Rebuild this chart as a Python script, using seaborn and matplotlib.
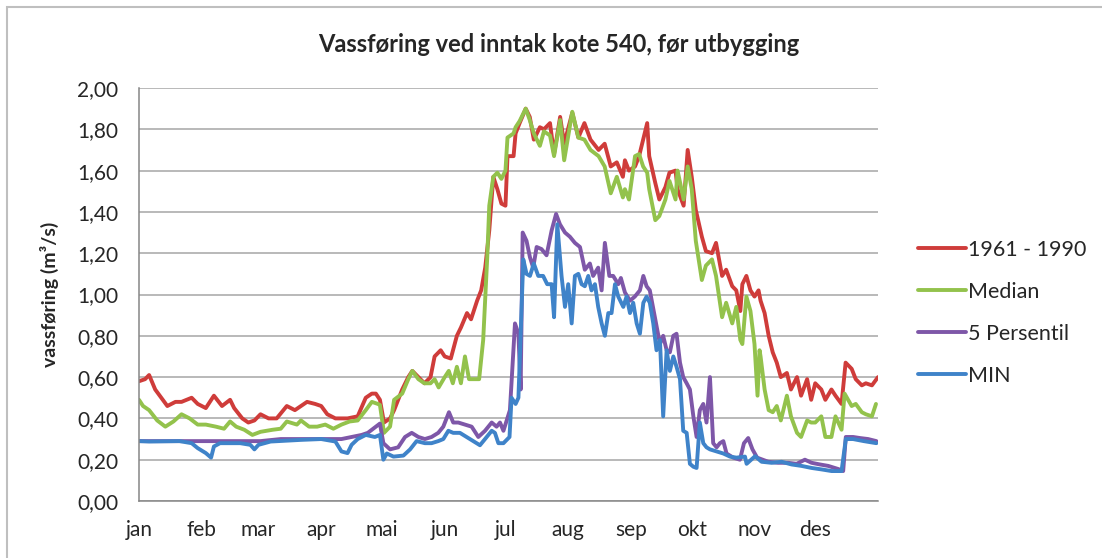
import matplotlib
matplotlib.use("Agg")
import matplotlib.pyplot as plt
from matplotlib.patches import Rectangle
from matplotlib.ticker import FuncFormatter
import pandas as pd
import seaborn as sns

# month labels (ticks sit at the first day of each month)
months = ['jan', 'feb', 'mar', 'apr', 'mai', 'jun', 'jul', 'aug', 'sep', 'okt', 'nov', 'des']
month_start = [0, 31, 59, 90, 120, 151, 181, 212, 243, 273, 304, 334]

# 1961 - 1990 (day of year / m3/s)
red_days = [0, 3, 5, 8, 11, 14, 18, 21, 26, 29, 33, 37, 41, 45, 47, 51, 54, 57, 60, 64,
            68, 73, 77, 83, 87, 90, 93, 97, 103, 108, 112, 115, 117, 119, 121, 124, 126, 130,
            133, 135, 138, 141, 144, 146, 149, 151, 154, 157, 159, 162, 164, 167, 169, 171,
            173, 175, 177, 179, 181, 182, 185, 186, 188, 191, 193, 195, 198, 200, 203, 205,
            208, 210, 214, 217, 220, 223, 227, 230, 233, 236, 239, 240, 242, 245, 247, 249,
            251, 252, 255, 257, 260, 262, 265, 266, 269, 271, 273, 275, 278, 280, 283, 285,
            288, 290, 293, 295, 297, 298, 300, 302, 304, 306, 307, 309, 311, 313, 315, 317,
            320, 322, 325, 327, 330, 332, 334, 337, 339, 342, 344, 347, 349, 352, 354, 357,
            359, 362, 365]
red_vals = [0.58, 0.59, 0.61, 0.54, 0.50, 0.46, 0.48, 0.48, 0.50, 0.47, 0.45, 0.51, 0.46, 0.49,
            0.45, 0.40, 0.38, 0.39, 0.42, 0.40, 0.40, 0.46, 0.44, 0.48, 0.47, 0.46, 0.42, 0.40,
            0.40, 0.41, 0.50, 0.52, 0.52, 0.49, 0.38, 0.40, 0.44, 0.54, 0.60, 0.63, 0.60, 0.57,
            0.60, 0.70, 0.73, 0.70, 0.69, 0.80, 0.84, 0.91, 0.88, 0.97, 1.02, 1.13, 1.31, 1.57,
            1.51, 1.44, 1.43, 1.67, 1.67, 1.78, 1.83, 1.90, 1.86, 1.75, 1.81, 1.80, 1.83, 1.68,
            1.86, 1.73, 1.88, 1.76, 1.83, 1.75, 1.70, 1.73, 1.62, 1.64, 1.57, 1.65, 1.60, 1.62,
            1.67, 1.75, 1.83, 1.67, 1.54, 1.46, 1.52, 1.59, 1.60, 1.51, 1.43, 1.70, 1.57, 1.41,
            1.28, 1.21, 1.20, 1.25, 1.09, 1.12, 1.04, 1.02, 0.92, 1.05, 1.09, 1.02, 0.99, 1.02,
            0.97, 0.91, 0.80, 0.72, 0.67, 0.60, 0.62, 0.54, 0.60, 0.51, 0.59, 0.49, 0.57, 0.54,
            0.49, 0.54, 0.51, 0.47, 0.67, 0.64, 0.59, 0.56, 0.57, 0.56, 0.60]

# Median
green_days = [0, 2, 5, 9, 13, 17, 21, 25, 29, 33, 38, 42, 45, 48, 52, 56, 60, 66, 70, 73,
              78, 80, 84, 88, 92, 96, 100, 104, 108, 112, 115, 118, 119, 121, 124, 126, 130,
              133, 135, 138, 141, 144, 146, 148, 151, 153, 155, 157, 159, 161, 163, 166, 168,
              170, 172, 173, 175, 177, 179, 181, 182, 185, 186, 188, 191, 193, 195, 198, 200,
              203, 205, 208, 210, 214, 217, 220, 223, 227, 230, 233, 236, 239, 240, 242, 245,
              247, 249, 251, 252, 255, 257, 260, 262, 265, 266, 269, 271, 273, 275, 278, 280,
              283, 285, 288, 290, 293, 295, 297, 298, 300, 302, 303, 304, 305.5, 306.5, 307,
              309, 311, 313, 315, 317, 320, 322, 325, 327, 330, 332, 334, 337, 339, 342, 344,
              347, 348.5, 352, 354, 357, 359, 362, 364]
green_vals = [0.49, 0.46, 0.44, 0.39, 0.36, 0.385, 0.42, 0.40, 0.37, 0.37, 0.36, 0.35, 0.385,
              0.36, 0.345, 0.32, 0.335, 0.345, 0.35, 0.385, 0.37, 0.39, 0.36, 0.36, 0.37, 0.35,
              0.37, 0.385, 0.39, 0.44, 0.48, 0.47, 0.465, 0.33, 0.36, 0.49, 0.52, 0.59, 0.63,
              0.59, 0.57, 0.57, 0.59, 0.55, 0.60, 0.63, 0.57, 0.65, 0.57, 0.70, 0.59, 0.59, 0.59,
              0.78, 1.18, 1.43, 1.57, 1.59, 1.56, 1.60, 1.76, 1.78, 1.81, 1.84, 1.90, 1.845,
              1.78, 1.72, 1.79, 1.77, 1.67, 1.845, 1.65, 1.885, 1.76, 1.75, 1.70, 1.67, 1.62,
              1.49, 1.57, 1.47, 1.51, 1.46, 1.67, 1.68, 1.62, 1.59, 1.51, 1.36, 1.38, 1.46, 1.55,
              1.46, 1.60, 1.46, 1.62, 1.51, 1.26, 1.07, 1.14, 1.17, 1.09, 0.89, 0.96, 0.86, 0.94,
              0.78, 0.76, 0.99, 0.92, 0.84, 0.76, 0.51, 0.73, 0.70, 0.54, 0.44, 0.43, 0.46, 0.39,
              0.51, 0.41, 0.33, 0.31, 0.39, 0.38, 0.38, 0.41, 0.31, 0.31, 0.41, 0.345, 0.52,
              0.46, 0.47, 0.43, 0.42, 0.41, 0.47]

# 5 Persentil
purple_days = [0, 10, 20, 30, 40, 50, 60, 70, 80, 90, 100, 105, 110, 113, 117, 119, 120.7,
               124, 128, 131.4, 134.7, 138, 141.2, 144.5, 147.8, 150.3, 153.1, 155.2, 157.7,
               161, 164.3, 167.6, 170.9, 174.2, 176.6, 178.3, 180, 181.6, 183.2, 185.7, 187.4,
               188.5, 189.5, 191.4, 193.1, 194.7, 196.4, 198.8, 201.3, 203.8, 206, 207.9,
               210.4, 212.8, 215.3, 217.8, 220.2, 222.7, 224.3, 226.8, 228.5, 230.1, 232.3,
               234.2, 236.7, 238, 240, 242.5, 244.9, 247.4, 249.1, 250.7, 252.3, 254.8, 257.3,
               258.9, 260.6, 262.2, 263.9, 265.5, 267.2, 268.8, 270.5, 272.1, 273.8, 275.4,
               277, 278.7, 280.3, 282, 283.6, 285.3, 286.9, 288.6, 290.2, 293.5, 296.8, 298.8,
               300.9, 303, 305.3, 310.8, 315.7, 320.6, 324.8, 328.9, 332.2, 336.3, 340.4,
               345.3, 347.8, 349.1, 352.7, 356, 360.1, 364.2]
purple_vals = [0.29, 0.29, 0.29, 0.29, 0.29, 0.29, 0.29, 0.30, 0.30, 0.30, 0.30, 0.31, 0.32,
               0.33, 0.36, 0.375, 0.28, 0.25, 0.26, 0.31, 0.33, 0.31, 0.30, 0.31, 0.33, 0.36,
               0.43, 0.38, 0.38, 0.37, 0.36, 0.31, 0.34, 0.38, 0.36, 0.38, 0.34, 0.39, 0.44,
               0.86, 0.81, 0.54, 1.30, 1.26, 1.18, 1.13, 1.23, 1.22, 1.19, 1.31, 1.39, 1.34,
               1.30, 1.28, 1.25, 1.23, 1.12, 1.15, 1.09, 1.13, 1.02, 1.25, 1.09, 1.09, 1.05,
               1.08, 1.01, 0.97, 0.99, 1.02, 1.09, 1.04, 1.02, 0.89, 0.76, 0.80, 0.73, 0.72,
               0.80, 0.81, 0.67, 0.60, 0.57, 0.54, 0.41, 0.31, 0.44, 0.47, 0.38, 0.60, 0.28,
               0.26, 0.28, 0.29, 0.23, 0.21, 0.20, 0.28, 0.305, 0.25, 0.21, 0.19, 0.185, 0.185,
               0.18, 0.20, 0.185, 0.177, 0.17, 0.155, 0.145, 0.31, 0.31, 0.305, 0.30, 0.29]

# MIN
blue_days = [0, 5, 20, 26, 29, 33, 35.6, 37, 40, 50, 55, 57, 59, 65, 80, 90, 97, 100, 103,
             105, 108, 112, 116.5, 119, 120.7, 122.4, 125.7, 130.6, 133.9, 137.1, 141.2,
             144.5, 147.8, 150.3, 152.8, 155.2, 158.5, 161.8, 165.1, 168.4, 170.9, 174.2,
             175.8, 177.5, 180, 182, 183, 184, 186, 187.4, 189.8, 191.4, 193.1, 195, 197.2,
             199.6, 201.6, 203.8, 205, 206.6, 208.7, 210.4, 212, 213.7, 215.3, 217, 218.6,
             220.2, 221.9, 223.5, 225.2, 226.8, 228.5, 230.1, 231.8, 233.4, 235.1, 236.7,
             239.2, 240.8, 242.5, 244.1, 245.8, 247.4, 249.1, 250.7, 252.3, 254, 255.6, 257.3,
             258.9, 260.6, 262.2, 263.9, 265.5, 267.2, 268.8, 270.5, 272.1, 273.8, 275.4, 277,
             278.7, 280.3, 282, 285.3, 288.6, 291.9, 295.1, 299.3, 300.1, 304.3, 307.5, 312.4,
             317.4, 322.3, 327.2, 332.2, 337.1, 342.1, 347, 349.1, 352.7, 358, 364.2]
blue_vals = [0.29, 0.288, 0.29, 0.28, 0.256, 0.232, 0.21, 0.264, 0.28, 0.28, 0.272, 0.25, 0.272,
             0.288, 0.296, 0.30, 0.288, 0.24, 0.232, 0.272, 0.30, 0.32, 0.31, 0.32, 0.20, 0.23,
             0.215, 0.22, 0.25, 0.29, 0.28, 0.28, 0.29, 0.30, 0.34, 0.33, 0.33, 0.31, 0.29,
             0.27, 0.30, 0.34, 0.33, 0.28, 0.28, 0.30, 0.31, 0.50, 0.47, 0.50, 1.17, 1.10, 1.09,
             1.15, 1.09, 1.09, 1.05, 1.05, 0.89, 1.34, 1.09, 0.94, 1.05, 0.86, 1.09, 1.10, 1.05,
             1.04, 1.09, 1.02, 1.05, 0.94, 0.86, 0.80, 0.91, 0.91, 1.05, 0.99, 0.94, 0.99, 0.91,
             0.96, 0.86, 0.81, 0.96, 0.99, 0.96, 0.86, 0.73, 0.78, 0.41, 0.73, 0.63, 0.70, 0.65,
             0.59, 0.34, 0.33, 0.18, 0.166, 0.16, 0.38, 0.28, 0.26, 0.25, 0.24, 0.23, 0.215, 0.21,
             0.215, 0.18, 0.217, 0.19, 0.185, 0.19, 0.177, 0.17, 0.16, 0.153, 0.145, 0.145, 0.30,
             0.30, 0.29, 0.28]

series_names = ['1961 - 1990', 'Median', '5 Persentil', 'MIN']
colors = ['#cf3c3a', '#93c24c', '#7e57a8', '#3f83c9']

frames = []
for name, d, v in zip(series_names,
                      [red_days, green_days, purple_days, blue_days],
                      [red_vals, green_vals, purple_vals, blue_vals]):
    frames.append(pd.DataFrame({'dag': d, 'verdi': v, 'serie': name}))
df = pd.concat(frames, ignore_index=True)

sns.set_style("white")
plt.rcParams['font.family'] = ['Lato', 'DejaVu Sans']

fig = plt.figure(figsize=(11.02, 5.58), dpi=100)
ax = fig.add_axes([139 / 1102, 1 - 501 / 558, (878 - 139) / 1102, (501 - 88) / 558])

sns.lineplot(data=df, x='dag', y='verdi', hue='serie', hue_order=series_names,
             palette=colors, estimator=None, errorbar=None, linewidth=2.8, ax=ax)

ax.set_xlim(0, 365)
ax.set_ylim(0, 2.0)
ax.set_yticks([i * 0.2 for i in range(11)])
ax.yaxis.set_major_formatter(FuncFormatter(lambda v, _: f"{v:.2f}".replace('.', ',')))
ax.set_xticks(month_start + [365])
ax.set_xticklabels(months + [''])
ax.yaxis.grid(True, color='#a6a6a6', linewidth=1.1)
ax.set_axisbelow(True)
for s in ['top', 'right']:
    ax.spines[s].set_visible(False)
for s in ['left', 'bottom']:
    ax.spines[s].set_color('#868686')
    ax.spines[s].set_linewidth(1.1)
ax.tick_params(axis='both', direction='out', length=4, width=1.1, color='#868686',
               labelsize=15, labelcolor='#262626')
ax.tick_params(axis='y', pad=11)
ax.tick_params(axis='x', pad=10)
ax.set_xlabel('')
ax.set_ylabel('')

# y label and title placed like in the original Excel chart
fig.text(49 / 1102, 1 - 294 / 558, 'vassføring (m³/s)', rotation=90,
         ha='center', va='center', fontsize=14, fontweight='bold')
fig.text(559 / 1102, 1 - 45 / 558, 'Vassføring ved inntak kote 540, før utbygging',
         ha='center', va='center', fontsize=17, fontweight='bold')

handles, labels = ax.get_legend_handles_labels()
ax.legend(handles, labels, loc='upper left', bbox_to_anchor=(907 / 1102, 1 - 229 / 558),
          bbox_transform=fig.transFigure, frameon=False, fontsize=15.5, handlelength=2.25,
          handletextpad=0.08, labelspacing=1.02, borderpad=0)

fig.patches.append(Rectangle((7 / 1102, -0.05), 1.1, 1.05 - 7 / 558, transform=fig.transFigure,
                             fill=False, edgecolor='#bfbfbf', linewidth=1.5))

fig.savefig('out.png', dpi=100)
